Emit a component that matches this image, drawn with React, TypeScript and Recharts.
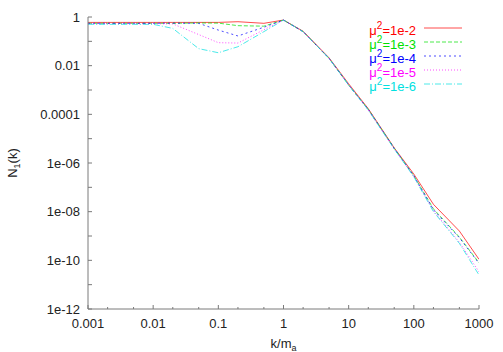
import React from 'react';
import { LineChart, Line, XAxis, YAxis, Customized } from 'recharts';

const kValues = [0.001, 0.002, 0.005, 0.01, 0.02, 0.05, 0.1, 0.2, 0.5, 1, 2, 5, 10, 20, 50, 100, 200, 500, 1000];

const mu1e2 = [0.6, 0.6, 0.6, 0.6, 0.6, 0.6, 0.6, 0.64, 0.55, 0.75, 0.26, 0.021, 1.8e-3, 1.7e-4, 4.2e-6, 3.5e-7, 2.0e-8, 1.6e-9, 1.1e-10];
const mu1e3 = [0.55, 0.55, 0.55, 0.55, 0.55, 0.57, 0.56, 0.44, 0.42, 0.75, 0.25, 0.02, 1.6e-3, 1.6e-4, 4e-6, 3e-7, 1.3e-8, 9e-10, 8e-11];
const mu1e4 = [0.55, 0.55, 0.55, 0.55, 0.56, 0.55, 0.29, 0.166, 0.38, 0.75, 0.25, 0.02, 1.6e-3, 1.6e-4, 4e-6, 3e-7, 1.2e-8, 8.5e-10, 7.5e-11];
const mu1e5 = [0.53, 0.53, 0.53, 0.53, 0.52, 0.19, 0.088, 0.085, 0.3, 0.75, 0.25, 0.02, 1.6e-3, 1.5e-4, 3.8e-6, 2.8e-7, 1.1e-8, 5.5e-10, 3.4e-11];
const mu1e6 = [0.5, 0.5, 0.5, 0.5, 0.34, 0.05, 0.034, 0.06, 0.25, 0.75, 0.25, 0.02, 1.6e-3, 1.5e-4, 3.8e-6, 2.7e-7, 1e-8, 5e-10, 2.5e-11];

const seriesLabels = ['1e-2', '1e-3', '1e-4', '1e-5', '1e-6'];
const seriesKeys = ['m2', 'm3', 'm4', 'm5', 'm6'];
const seriesValues = [mu1e2, mu1e3, mu1e4, mu1e5, mu1e6];
const seriesColors = ['#ff0000', '#00e000', '#0000ff', '#ff00ff', '#00e0e0'];
const seriesDash = [undefined, '4 2', '2 3', '1 2', '6 2 1 2'];

const xMajorTicks = [0.001, 0.01, 0.1, 1, 10, 100, 1000];
const xMinorTicks = [0.002, 0.005, 0.02, 0.05, 0.2, 0.5, 2, 5, 20, 50, 200, 500];
const xTickLabels = ['0.001', '0.01', '0.1', '1', '10', '100', '1000'];
const yTicks = [1e-12, 1e-11, 1e-10, 1e-9, 1e-8, 1e-7, 1e-6, 1e-5, 1e-4, 1e-3, 1e-2, 1e-1, 1];
const yTickLabels: Record<string, string> = {
  '1': '1',
  '0.01': '0.01',
  '0.0001': '0.0001',
  '0.000001': '1e-06',
  '1e-8': '1e-08',
  '1e-10': '1e-10',
  '1e-12': '1e-12',
};

const data = kValues.map((k, i) => {
  const row: Record<string, number> = { k };
  seriesKeys.forEach((key, s) => {
    row[key] = seriesValues[s][i];
  });
  return row;
});

const xTicksAll = [...xMajorTicks, ...xMinorTicks].sort((a, b) => a - b);

const FONT = '"Liberation Sans", Arial, sans-serif';
const AXIS_COLOR = '#7a7a7a';
const TEXT_COLOR = '#222';

const isMajorX = (v: number) => xMajorTicks.some((t) => Math.abs(t - v) / t < 1e-9);
const xLabel = (v: number) => {
  const i = xMajorTicks.findIndex((t) => Math.abs(t - v) / t < 1e-9);
  return i >= 0 ? xTickLabels[i] : '';
};
const yLabel = (v: number) => {
  const key = String(v);
  return yTickLabels[key] ?? '';
};

const BottomTick = (props: any) => {
  const { x, y, payload } = props;
  const major = isMajorX(payload.value);
  return (
    <g>
      <line x1={x} x2={x} y1={y} y2={y - (major ? 4 : 2)} stroke={AXIS_COLOR} strokeWidth={1} />
      {major && (
        <text x={x} y={y + 19} textAnchor="middle" fontFamily={FONT} fontSize={13} fill={TEXT_COLOR}>
          {xLabel(payload.value)}
        </text>
      )}
    </g>
  );
};

const TopTick = (props: any) => {
  const { x, y, payload } = props;
  const major = isMajorX(payload.value);
  return <line x1={x} x2={x} y1={y} y2={y + (major ? 4 : 2)} stroke={AXIS_COLOR} strokeWidth={1} />;
};

const LeftTick = (props: any) => {
  const { x, y, payload } = props;
  const label = yLabel(payload.value);
  return (
    <g>
      <line x1={x} x2={x + 4} y1={y} y2={y} stroke={AXIS_COLOR} strokeWidth={1} />
      {label && (
        <text x={x - 8} y={y + 4.5} textAnchor="end" fontFamily={FONT} fontSize={13} fill={TEXT_COLOR}>
          {label}
        </text>
      )}
    </g>
  );
};

const RightTick = (props: any) => {
  const { x, y } = props;
  return <line x1={x} x2={x - 4} y1={y} y2={y} stroke={AXIS_COLOR} strokeWidth={1} />;
};

const LegendBox = () => {
  return (
    <g>
      {seriesLabels.map((lab, i) => (
        <g key={lab}>
          <text x={416} y={34.7 + i * 14} textAnchor="end" fontFamily={FONT} fontSize={13} fill={seriesColors[i]}>
            <tspan>μ</tspan>
            <tspan dy={-6} fontSize={10}>2</tspan>
            <tspan dy={6}>={lab}</tspan>
          </text>
          <line
            x1={424}
            x2={462}
            y1={28 + i * 14}
            y2={28 + i * 14}
            stroke={seriesColors[i]}
            strokeOpacity={0.7}
            strokeWidth={1}
            strokeDasharray={seriesDash[i]}
          />
        </g>
      ))}
    </g>
  );
};

const YAxisLabel = (props: any) => {
  const vb = props.viewBox || { x: 0, y: 17, width: 88, height: 292 };
  const cx = vb.x + 17;
  const cy = vb.y + vb.height / 2;
  return (
    <text
      x={cx}
      y={cy}
      textAnchor="middle"
      fontFamily={FONT}
      fontSize={13}
      fill={TEXT_COLOR}
      transform={`rotate(-90, ${cx}, ${cy})`}
    >
      <tspan>N</tspan>
      <tspan dy={3} fontSize={9}>1</tspan>
      <tspan dy={-3}>(k)</tspan>
    </text>
  );
};

const XAxisLabel = (props: any) => {
  const vb = props.viewBox || { x: 88, y: 309, width: 391, height: 43 };
  const cx = vb.x + vb.width / 2;
  const cy = vb.y + 39;
  return (
    <text x={cx} y={cy} textAnchor="middle" fontFamily={FONT} fontSize={13} fill={TEXT_COLOR}>
      <tspan>k/m</tspan>
      <tspan dy={3} fontSize={9}>a</tspan>
    </text>
  );
};

export default function App() {
  return (
    <div style={{ position: 'absolute', left: 0, top: 0, width: 503, height: 352, background: '#fff' }}>
      <LineChart width={503} height={352} data={data} margin={{ top: 17, right: 24, bottom: 0, left: 0 }}>
        <XAxis
          xAxisId="b"
          dataKey="k"
          type="number"
          scale="log"
          domain={[0.001, 1000]}
          allowDataOverflow
          ticks={xTicksAll}
          interval={0}
          height={43}
          tickSize={0}
          tickMargin={0}
          tick={BottomTick}
          axisLine={{ stroke: AXIS_COLOR }}
          tickLine={false}
          label={<XAxisLabel />}
        />
        <XAxis
          xAxisId="t"
          orientation="top"
          dataKey="k"
          type="number"
          scale="log"
          domain={[0.001, 1000]}
          allowDataOverflow
          ticks={xTicksAll}
          interval={0}
          height={0}
          tickSize={0}
          tickMargin={0}
          tick={TopTick}
          axisLine={{ stroke: AXIS_COLOR }}
          tickLine={false}
        />
        <YAxis
          yAxisId="l"
          type="number"
          scale="log"
          domain={[1e-12, 1]}
          allowDataOverflow
          ticks={yTicks}
          interval={0}
          width={88}
          tickSize={0}
          tickMargin={0}
          tick={LeftTick}
          axisLine={{ stroke: AXIS_COLOR }}
          tickLine={false}
          label={<YAxisLabel />}
        />
        <YAxis
          yAxisId="r"
          orientation="right"
          type="number"
          scale="log"
          domain={[1e-12, 1]}
          allowDataOverflow
          ticks={yTicks}
          interval={0}
          width={0}
          tickSize={0}
          tickMargin={0}
          tick={RightTick}
          axisLine={{ stroke: AXIS_COLOR }}
          tickLine={false}
        />
        {seriesKeys.map((key, i) => (
          <Line
            key={key}
            xAxisId="b"
            yAxisId="l"
            type="linear"
            dataKey={key}
            stroke={seriesColors[i]}
            strokeOpacity={0.7}
            strokeWidth={1}
            strokeDasharray={seriesDash[i]}
            dot={false}
            activeDot={false}
            isAnimationActive={false}
          />
        ))}
        <Customized component={LegendBox} />
      </LineChart>
    </div>
  );
}
